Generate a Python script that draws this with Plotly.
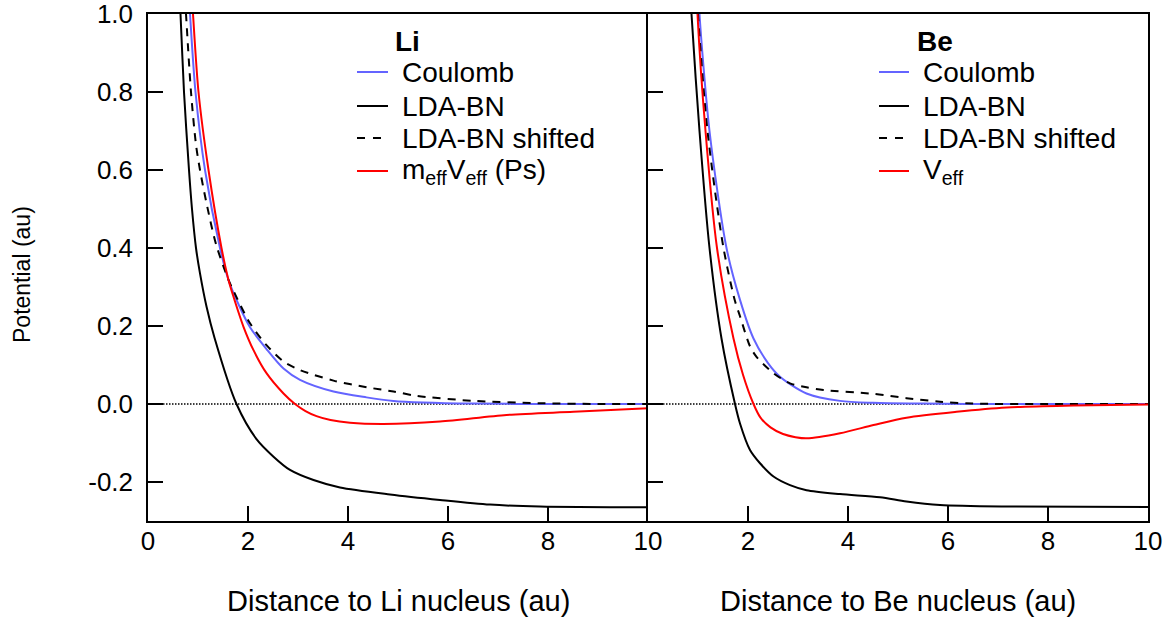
import plotly.graph_objects as go

# ---------------- data ----------------
# Li panel
li_coul_x = [0.82, 0.84, 0.95, 1.14, 1.44, 1.61, 1.83, 2.04, 2.37, 2.71, 3.04, 3.71, 4.37, 4.91, 5.50, 6.50, 8.00, 10.0]
li_coul_y = [1.04, 1.00, 0.80, 0.60, 0.40, 0.318, 0.25, 0.197, 0.141, 0.091, 0.062, 0.032, 0.017, 0.008, 0.004, 0.001, 0.0, 0.0]

li_lda_x = [0.63, 0.65, 0.72, 0.82, 0.88, 0.96, 1.04, 1.17, 1.33, 1.77, 2.17, 2.51, 2.84, 3.31, 3.84, 4.84, 5.84, 6.84, 7.84, 10.0]
li_lda_y = [1.04, 1.00, 0.80, 0.60, 0.50, 0.40, 0.335, 0.25, 0.17, 0.0, -0.09, -0.135, -0.169, -0.195, -0.214, -0.232, -0.246, -0.258, -0.263, -0.265]

li_shift_x = [0.74, 0.76, 0.86, 0.96, 1.04, 1.17, 1.36, 1.61, 1.71, 2.04, 2.37, 2.71, 3.04, 3.71, 4.37, 4.91, 5.37, 6.51, 7.84, 9.0, 10.0]
li_shift_y = [1.04, 1.00, 0.80, 0.665, 0.60, 0.515, 0.41, 0.318, 0.29, 0.207, 0.151, 0.109, 0.087, 0.060, 0.043, 0.032, 0.021, 0.008, 0.002, 0.0, 0.0]

li_veff_x = [0.88, 0.90, 1.01, 1.21, 1.47, 1.61, 1.71, 1.91, 2.11, 2.37, 2.71, 2.94, 3.15, 3.37, 3.65, 4.04, 4.71, 5.84, 7.17, 8.51, 10.0]
li_veff_y = [1.04, 1.00, 0.80, 0.60, 0.40, 0.318, 0.275, 0.198, 0.138, 0.079, 0.027, 0.0, -0.018, -0.031, -0.041, -0.048, -0.051, -0.045, -0.028, -0.020, -0.011]

# Be panel
be_coul_x = [1.02, 1.03, 1.23, 1.57, 1.84, 2.11, 2.40, 2.64, 3.17, 3.84, 4.50, 5.50, 7.00, 10.0]
be_coul_y = [1.04, 1.00, 0.70, 0.40, 0.267, 0.168, 0.105, 0.070, 0.027, 0.008, 0.003, 0.001, 0.0, 0.0]

be_lda_x = [0.86, 0.87, 1.03, 1.23, 1.47, 1.74, 1.84, 2.04, 2.24, 2.51, 2.84, 3.17, 3.84, 4.64, 5.17, 5.84, 7.17, 10.0]
be_lda_y = [1.04, 1.00, 0.70, 0.40, 0.168, 0.0, -0.05, -0.118, -0.152, -0.186, -0.208, -0.221, -0.231, -0.239, -0.250, -0.259, -0.263, -0.264]

be_shift_x = [0.99, 1.00, 1.19, 1.51, 1.74, 1.84, 2.04, 2.17, 2.51, 2.84, 3.17, 3.51, 4.51, 5.17, 5.84, 6.50, 8.00, 10.0]
be_shift_y = [1.04, 1.00, 0.70, 0.40, 0.264, 0.225, 0.148, 0.121, 0.079, 0.053, 0.043, 0.036, 0.026, 0.015, 0.006, 0.001, 0.0, 0.0]

be_veff_x = [0.98, 0.99, 1.15, 1.38, 1.71, 1.90, 2.11, 2.25, 2.45, 2.70, 2.95, 3.17, 3.84, 4.51, 5.17, 6.17, 7.17, 8.51, 10.0]
be_veff_y = [1.04, 1.00, 0.70, 0.40, 0.168, 0.075, 0.0, -0.035, -0.060, -0.077, -0.085, -0.088, -0.075, -0.054, -0.035, -0.020, -0.009, -0.004, -0.001]

zero_x = [0, 10]
zero_y = [0, 0]

ytick_vals = [-0.2, 0.0, 0.2, 0.4, 0.6, 0.8, 1.0]
ytick_text = ["-0.2", "0.0", "0.2", "0.4", "0.6", "0.8", "1.0"]
xtick_vals_left = [0, 2, 4, 6, 8, 10]
xtick_vals_right = [2, 4, 6, 8, 10]

series_names = ["Coulomb", "LDA-BN", "LDA-BN shifted"]
li_red_name = "m<sub>eff</sub>V<sub>eff</sub> (Ps)"
be_red_name = "V<sub>eff</sub>"
panel_titles = ["Li", "Be"]
x_titles = ["Distance to Li nucleus (au)", "Distance to Be nucleus (au)"]
y_title = "Potential (au)"

# ---------------- styles ----------------
FONT = "Liberation Sans, Arial, sans-serif"
BLUE = "#6464ff"
RED = "#ff0000"
BLACK = "#000000"
LW = 2.0
DASH = "8px,7px"

W, H = 1170, 619
ML, MR, MT, MB = 148, 22, 14, 98
PW, PH = W - ML - MR, H - MT - MB


def px2paper_x(px):
    return (px - ML) / PW


def px2paper_y(py):
    return (H - MB - py) / PH


fig = go.Figure()

panels = [
    ("x", "y", li_coul_x, li_coul_y, li_lda_x, li_lda_y, li_shift_x, li_shift_y, li_veff_x, li_veff_y, li_red_name),
    ("x2", "y2", be_coul_x, be_coul_y, be_lda_x, be_lda_y, be_shift_x, be_shift_y, be_veff_x, be_veff_y, be_red_name),
]

for xa, ya, cx, cy, lx, ly, sx, sy, vx, vy, rname in panels:
    fig.add_trace(go.Scatter(x=zero_x, y=zero_y, xaxis=xa, yaxis=ya, mode="lines",
                             line=dict(color=BLACK, width=1.5, dash="1.5px,1.5px"),
                             showlegend=False, hoverinfo="skip"))
    fig.add_trace(go.Scatter(x=cx, y=cy, xaxis=xa, yaxis=ya, mode="lines", name=series_names[0],
                             showlegend=False, line=dict(color=BLUE, width=LW, shape="spline", smoothing=0.8)))
    fig.add_trace(go.Scatter(x=lx, y=ly, xaxis=xa, yaxis=ya, mode="lines", name=series_names[1],
                             showlegend=False, line=dict(color=BLACK, width=LW, shape="spline", smoothing=0.8)))
    fig.add_trace(go.Scatter(x=sx, y=sy, xaxis=xa, yaxis=ya, mode="lines", name=series_names[2],
                             showlegend=False, line=dict(color=BLACK, width=LW, dash=DASH, shape="spline", smoothing=0.8)))
    fig.add_trace(go.Scatter(x=vx, y=vy, xaxis=xa, yaxis=ya, mode="lines", name=rname,
                             showlegend=False, line=dict(color=RED, width=LW, shape="spline", smoothing=0.8)))

# ---------------- in-panel legends (text + line samples) ----------------
legend_layout = [
    # (title_px, sample_x0, sample_x1, text_px, names)
    (393, 357, 388, 400, series_names + [li_red_name]),
    (915, 879, 909, 921, series_names + [be_red_name]),
]
title_py = 41
row_py = [72, 106, 138, 171]
row_colors = [BLUE, BLACK, BLACK, RED]
row_dash = ["solid", "solid", "8px,8px", "solid"]

annotations = []
shapes = []
for (tpx, s0, s1, tx, names), ttl in zip(legend_layout, panel_titles):
    annotations.append(dict(text="<b>%s</b>" % ttl, xref="paper", yref="paper",
                            x=px2paper_x(tpx), y=px2paper_y(title_py), xanchor="left", yanchor="middle",
                            showarrow=False, font=dict(family=FONT, size=28, color=BLACK)))
    for nm, py, col, dsh in zip(names, row_py, row_colors, row_dash):
        annotations.append(dict(text=nm, xref="paper", yref="paper",
                                x=px2paper_x(tx), y=px2paper_y(py), xanchor="left", yanchor="middle",
                                showarrow=False, font=dict(family=FONT, size=28, color=BLACK)))
        shapes.append(dict(type="line", xref="paper", yref="paper",
                           x0=px2paper_x(s0), x1=px2paper_x(s1), y0=px2paper_y(py), y1=px2paper_y(py),
                           line=dict(color=col, width=LW, dash=dsh)))

for xt, cx in zip(x_titles, [0.25, 0.75]):
    annotations.append(dict(text=xt, xref="paper", yref="paper", x=cx, y=px2paper_y(601),
                            xanchor="center", yanchor="middle", showarrow=False,
                            font=dict(family=FONT, size=29, color=BLACK)))
annotations.append(dict(text=y_title, xref="paper", yref="paper", x=px2paper_x(22), y=px2paper_y(275),
                        textangle=-90, xanchor="center", yanchor="middle", showarrow=False,
                        font=dict(family=FONT, size=23, color=BLACK)))

axis_common = dict(showline=True, linecolor=BLACK, linewidth=1.5,
                   ticks="inside", ticklen=15, tickwidth=1.5, tickcolor=BLACK,
                   showgrid=False, zeroline=False, automargin=False, ticklabeloverflow="allow",
                   tickfont=dict(family=FONT, size=26, color=BLACK))

fig.update_layout(
    template="none",
    width=W, height=H,
    margin=dict(l=ML, r=MR, t=MT, b=MB, autoexpand=False),
    paper_bgcolor="white", plot_bgcolor="white",
    font=dict(family=FONT, size=26, color=BLACK),
    showlegend=False,
    xaxis=dict(domain=[0, 0.5], range=[0, 10], tickvals=xtick_vals_left, anchor="y", mirror=True,
               ticklabelstandoff=-4, **axis_common),
    xaxis2=dict(domain=[0.5, 1], range=[0, 10], tickvals=xtick_vals_right, anchor="y2", mirror=True,
                ticklabelstandoff=-4, **axis_common),
    yaxis=dict(range=[-0.3, 1.0], tickvals=ytick_vals, ticktext=ytick_text, anchor="x", mirror=False,
               ticklabelstandoff=8, **axis_common),
    yaxis2=dict(range=[-0.3, 1.0], tickvals=ytick_vals, showticklabels=False, anchor="x2", mirror=True,
                **axis_common),
    annotations=annotations,
    shapes=shapes,
)

fig.write_html("out.html", config={"displayModeBar": False},
               post_script="document.body.style.margin='0px';")
